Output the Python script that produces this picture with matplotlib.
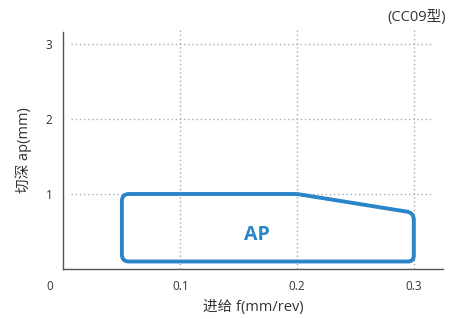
import matplotlib
matplotlib.use("Agg")
import matplotlib.pyplot as plt
import numpy as np
from matplotlib.path import Path
from matplotlib.patches import PathPatch

plt.rcParams['font.family'] = ['Open Sans', 'Noto Sans CJK SC', 'DejaVu Sans']

# Data
ap_feed = [0.05, 0.05, 0.2, 0.3, 0.3]      # f (mm/rev)
ap_depth = [0.1, 1.0, 1.0, 0.75, 0.1]      # ap (mm)
x_ticks = [0.1, 0.2, 0.3]
x_tick_labels = ['0.1', '0.2', '0.3']
y_ticks = [1, 2, 3]
y_tick_labels = ['1', '2', '3']
region_label = 'AP'
model_label = '(CC09型)'
x_label = '进给 f(mm/rev)'
y_label = '切深 ap(mm)'

W, H, DPI = 452, 319, 100
fig = plt.figure(figsize=(W / DPI, H / DPI), dpi=DPI)
L, R, B, T = 63.5, 443, 269, 32
ax = fig.add_axes([L / W, 1 - B / H, (R - L) / W, (B - T) / H])
ax.set_xlim(0, 0.325)
ax.set_ylim(0, 3.16)

for s in ['top', 'right']:
    ax.spines[s].set_visible(False)
for s in ['left', 'bottom']:
    ax.spines[s].set_color('#555555')
    ax.spines[s].set_linewidth(1.0)

grid_kw = dict(color='#aaaaaa', linestyle=(0, (1, 2)), linewidth=1.0, zorder=1)
for yv in y_ticks:
    ax.plot([0.006, 0.315], [yv, yv], **grid_kw)
for xv in x_ticks:
    ax.plot([xv, xv], [0, 3.2], clip_on=False, **grid_kw)

ax.set_xticks(x_ticks)
ax.set_xticklabels(x_tick_labels)
ax.set_yticks(y_ticks)
ax.set_yticklabels(y_tick_labels)
ax.tick_params(length=0, labelsize=8.5, colors='#333333', pad=8)
ax.tick_params(axis='y', pad=8)

ax.set_xlabel(x_label, fontsize=10.5, color='#333333', labelpad=5)
ax.set_ylabel(y_label, fontsize=10.5, color='#333333', labelpad=10)

fig.canvas.draw()
# origin label, aligned with the x tick label row
ax.text(-0.0115, 0, '0', fontsize=8.5, color='#333333', ha='center', va='top',
        clip_on=False, transform=ax.transData +
        matplotlib.transforms.ScaledTranslation(0, -8 / 72, fig.dpi_scale_trans))

# Rounded polygon built in display coords
pts = ax.transData.transform(np.column_stack([ap_feed, ap_depth]))
radii = [7, 7, 2, 7, 6]
verts, codes = [], []
n = len(pts)
for i in range(n):
    p = pts[i]
    prev = pts[i - 1]
    nxt = pts[(i + 1) % n]
    r = radii[i]
    d1 = (prev - p) / np.linalg.norm(prev - p)
    d2 = (nxt - p) / np.linalg.norm(nxt - p)
    a = p + d1 * r
    b = p + d2 * r
    verts.append(a); codes.append(Path.MOVETO if i == 0 else Path.LINETO)
    verts += [p, b]; codes += [Path.CURVE3, Path.CURVE3]
verts.append(verts[0]); codes.append(Path.CLOSEPOLY)
data_verts = ax.transData.inverted().transform(np.array(verts))
patch = PathPatch(Path(data_verts, codes), facecolor='none', edgecolor='#2a85c8',
                  linewidth=2.8, zorder=3, joinstyle='round')
ax.add_patch(patch)

ax.text(0.166, 0.45, region_label, fontsize=14, fontweight='bold', color='#2a85c8',
        ha='center', va='center', zorder=4)

fig.text(446 / W, 1 - 17 / H, model_label, fontsize=10.5, color='#333333', ha='right', va='center')

fig.savefig('out.png', dpi=DPI)
